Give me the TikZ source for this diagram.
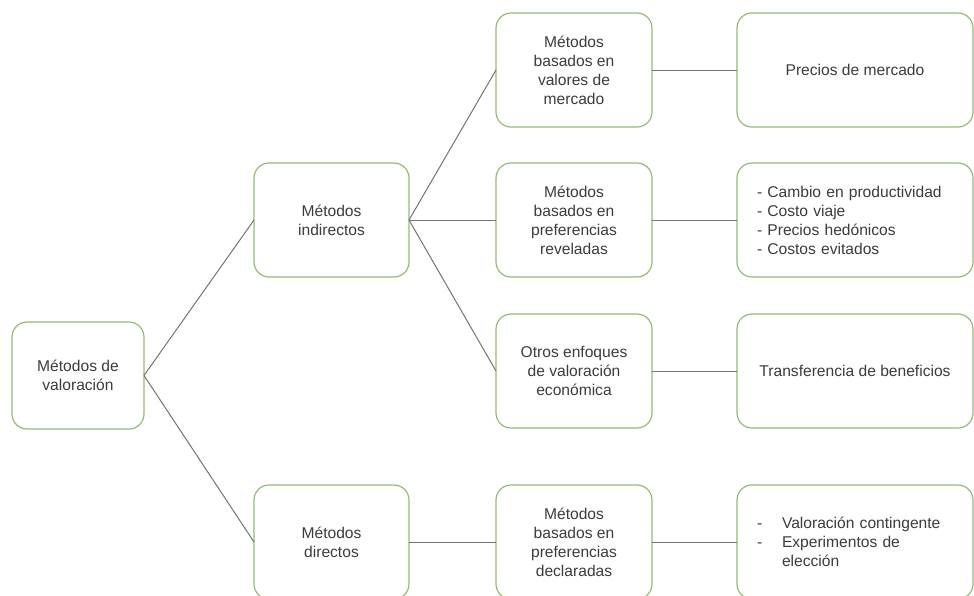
\documentclass[tikz,border=0pt]{standalone}
\usepackage{fontspec}
\setmainfont{Liberation Sans}
\definecolor{bordeverde}{RGB}{150,186,118}
\definecolor{lineagris}{RGB}{115,115,115}
\definecolor{textogris}{RGB}{60,60,60}
\tikzset{
  caja/.style={draw=bordeverde, line width=1.2pt, rounded corners=15pt,
    fill=white, align=center, inner sep=0pt, outer sep=0pt, text=textogris,
    minimum height=114pt, font=\fontsize{15.6}{19}\selectfont},
  conector/.style={draw=lineagris, line width=1pt}
}
\begin{document}
\begin{tikzpicture}[x=1pt,y=-1pt]
        \useasboundingbox (0,0) rectangle (974,595);
        % Caja raíz
        \node[caja, minimum width=132pt, minimum height=107pt] (valoracion) at (78,375.5) {Métodos de\\valoración};
        % Segundo nivel
        \node[caja, minimum width=155pt] (indirectos) at (331.5,220) {Métodos\\indirectos};
        \node[caja, minimum width=155pt] (directos) at (331.5,542) {Métodos\\directos};
        % Tercer nivel
        \node[caja, minimum width=156pt] (mercado) at (574,70) {Métodos\\basados en\\valores de\\mercado};
        \node[caja, minimum width=156pt] (reveladas) at (574,220) {Métodos\\basados en\\preferencias\\reveladas};
        \node[caja, minimum width=156pt] (otros) at (574,371) {Otros enfoques\\de valoración\\económica};
        \node[caja, minimum width=156pt] (declaradas) at (574,542) {Métodos\\basados en\\preferencias\\declaradas};
        % Cuarto nivel
        \node[caja, minimum width=236pt] (precios) at (855,70) {Precios de mercado};
        \node[caja, minimum width=236pt, text width=196pt, align=left] (lista) at (855,220)
          {- Cambio en productividad\\- Costo viaje\\- Precios hedónicos\\- Costos evitados};
        \node[caja, minimum width=236pt] (transferencia) at (855,371) {Transferencia de beneficios};
        \node[caja, minimum width=236pt, text width=196pt, align=left] (contingente) at (855,542)
          {\makebox[25pt][l]{-}Valoración contingente\\\makebox[25pt][l]{-}Experimentos de\\\hspace*{25pt}elección};
        % Líneas
        \draw[conector] (valoracion.east) -- (indirectos.west);
        \draw[conector] (valoracion.east) -- (directos.west);
        \draw[conector] (indirectos.east) -- (mercado.west);
        \draw[conector] (indirectos.east) -- (reveladas.west);
        \draw[conector] (indirectos.east) -- (otros.west);
        \draw[conector] (directos.east) -- (declaradas.west);
        \draw[conector] (mercado.east) -- (precios.west);
        \draw[conector] (reveladas.east) -- (lista.west);
        \draw[conector] (otros.east) -- (transferencia.west);
        \draw[conector] (declaradas.east) -- (contingente.west);
    \end{tikzpicture}
\end{document}
